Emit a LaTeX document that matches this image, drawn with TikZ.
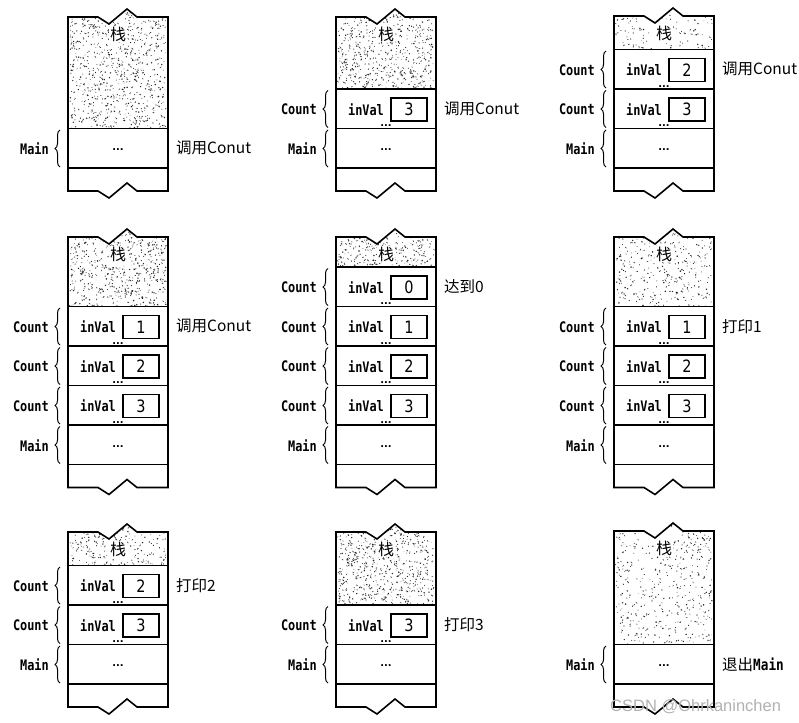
\documentclass[tikz,border=0pt]{standalone}
\usepackage{fontspec}
\setmainfont{DejaVu Sans}
\newfontfamily\monof[FakeStretch=0.82]{DejaVu Sans Mono}
\newfontfamily\numf[FakeStretch=0.85]{DejaVu Sans}
\newfontfamily\cjkf{Noto Sans CJK SC}
\newfontfamily\wmf{Liberation Sans}
\usetikzlibrary{decorations.pathreplacing}

\tikzset{
 frame/.style={line width=1.6pt, line join=miter},
 cellline/.style={line width=1.4pt},
 monotxt/.style={font=\monof\bfseries\fontsize{14.5}{16}\selectfont, inner sep=0},
 valbox/.style={draw, line width=1.5pt, minimum width=36pt, minimum height=23pt, inner sep=0, font=\numf\fontsize{17}{18}\selectfont},
 ell/.style={font=\bfseries\fontsize{10}{10}\selectfont, inner sep=0, anchor=base},
 bracestyle/.style={decorate, decoration={brace, amplitude=5pt}, line width=1pt},
 sidelbl/.style={font=\cjkf\fontsize{15.5}{17}\selectfont, anchor=west, inner sep=0},
 stacklbl/.style={font=\cjkf\fontsize{16}{17}\selectfont, fill=white, inner sep=0.8pt},
 dotc/.style={fill=black!85},
 strokec/.style={draw=black!80, line width=0.6pt},
}

\newcommand\stackpart[7]{%
 \begin{scope}
  \clip (#1,#2) -- ++(30,0) -- ++(11,7) -- ++(18,-15) -- ++(10,8) -- (#1+100,#2) -- (#1+100,#3) -- (#1,#3) -- cycle;
  \pgfmathsetseed{#6}
  \foreach \i in {1,...,#5}{%
    \pgfmathsetmacro\px{#1+2+96*rnd}%
    \pgfmathsetmacro\py{#2-8+(#3-#2+8)*rnd}%
    \pgfmathsetmacro\pr{0.4+0.45*rnd}%
    \fill[dotc] (\px,\py) circle[radius=\pr];
    \pgfmathsetmacro\qx{#1+2+96*rnd}%
    \pgfmathsetmacro\qy{#2-8+(#3-#2+8)*rnd}%
    \pgfmathsetmacro\dx{3*rnd-1.5}%
    \pgfmathsetmacro\dy{3*rnd-1.5}%
    \draw[strokec] (\qx,\qy) -- ++(\dx,\dy);
  }
 \end{scope}
 \node[stacklbl] (#7s) at (#1+50,#2+17) {栈};
 \draw[frame] (#1,#2) -- ++(30,0) -- ++(11,7) -- ++(18,-15) -- ++(10,8) -- (#1+100,#2)
   -- (#1+100,#4) -- ++(-31,0) -- ++(-10,-8) -- ++(-18,15) -- ++(-11,-7) -- (#1,#4) -- cycle;
 \draw[cellline] (#1,#3) -- (#1+100,#3);
}

\newcommand\countcell[4]{%
 \draw[cellline] (#1,#2+39.5) -- (#1+100,#2+39.5);
 \node[monotxt] (#4i) at (#1+30,#2+20.5) {inVal};
 \node[valbox] (#4v) at (#1+73,#2+20.5) {#3};
 \node[ell] (#4d) at (#1+50,#2+37.8) {...};
 \draw[bracestyle] (#1-8,#2+38.5) -- (#1-8,#2+1.5);
 \node[monotxt, anchor=east] (#4n) at (#1-19,#2+20.5) {Count};
}

\newcommand\maincell[3]{%
 \draw[cellline] (#1,#2+39.5) -- (#1+100,#2+39.5);
 \node[ell] (#3d) at (#1+50,#2+22) {...};
 \draw[bracestyle] (#1-8,#2+38.5) -- (#1-8,#2+1.5);
 \node[monotxt, anchor=east] (#3n) at (#1-19,#2+20.5) {Main};
}

\begin{document}
\begin{tikzpicture}[x=1pt,y=-1pt]
\useasboundingbox[fill=white] (0,0) rectangle (799,722);

% row 1
\stackpart{68}{17}{128.5}{191}{420}{11}{a}
\maincell{68}{128.5}{am}
\node[sidelbl] (al) at (176,148.25) {调用Conut};

\stackpart{336}{17}{89}{191}{300}{12}{b}
\countcell{336}{89}{3}{bca}
\maincell{336}{128.5}{bm}
\node[sidelbl] (bl) at (444,108.75) {调用Conut};

\stackpart{614}{16}{49.5}{191}{60}{13}{c}
\countcell{614}{49.5}{2}{cca}
\countcell{614}{89}{3}{ccb}
\maincell{614}{128.5}{cm}
\node[sidelbl] (cl) at (722,69.25) {调用Conut};

% row 2
\stackpart{68}{237}{306.5}{487.5}{290}{21}{d}
\countcell{68}{306.5}{1}{dca}
\countcell{68}{346}{2}{dcb}
\countcell{68}{385.5}{3}{dcc}
\maincell{68}{425}{dm}
\node[sidelbl] (dl) at (176,326.25) {调用Conut};

\stackpart{336}{237}{267}{487.5}{150}{22}{e}
\countcell{336}{267}{0}{eca}
\countcell{336}{306.5}{1}{ecb}
\countcell{336}{346}{2}{ecc}
\countcell{336}{385.5}{3}{ecd}
\maincell{336}{425}{em}
\node[sidelbl] (el) at (444,286.75) {达到0};

\stackpart{614}{237}{306.5}{487.5}{170}{23}{f}
\countcell{614}{306.5}{1}{fca}
\countcell{614}{346}{2}{fcb}
\countcell{614}{385.5}{3}{fcc}
\maincell{614}{425}{fm}
\node[sidelbl] (fl) at (722,326.25) {打印1};

% row 3
\stackpart{68}{532}{565.5}{707}{130}{31}{g}
\countcell{68}{565.5}{2}{gca}
\countcell{68}{605}{3}{gcb}
\maincell{68}{644.5}{gm}
\node[sidelbl] (gl) at (176,585.25) {打印2};

\stackpart{336}{532}{605}{707}{320}{32}{h}
\countcell{336}{605}{3}{hca}
\maincell{336}{644.5}{hm}
\node[sidelbl] (hl) at (444,624.75) {打印3};

\stackpart{614}{531}{644.5}{707}{230}{33}{k}
\maincell{614}{644.5}{km}
\node[sidelbl] (kl) at (722,664.25) {退出{\monof\bfseries Main}};

\node[font=\wmf\fontsize{16.5}{18}\selectfont, text=black!30, anchor=west, inner sep=0] (wm) at (610,707) {CSDN @Ohrkaninchen};
\end{tikzpicture}
\end{document}
